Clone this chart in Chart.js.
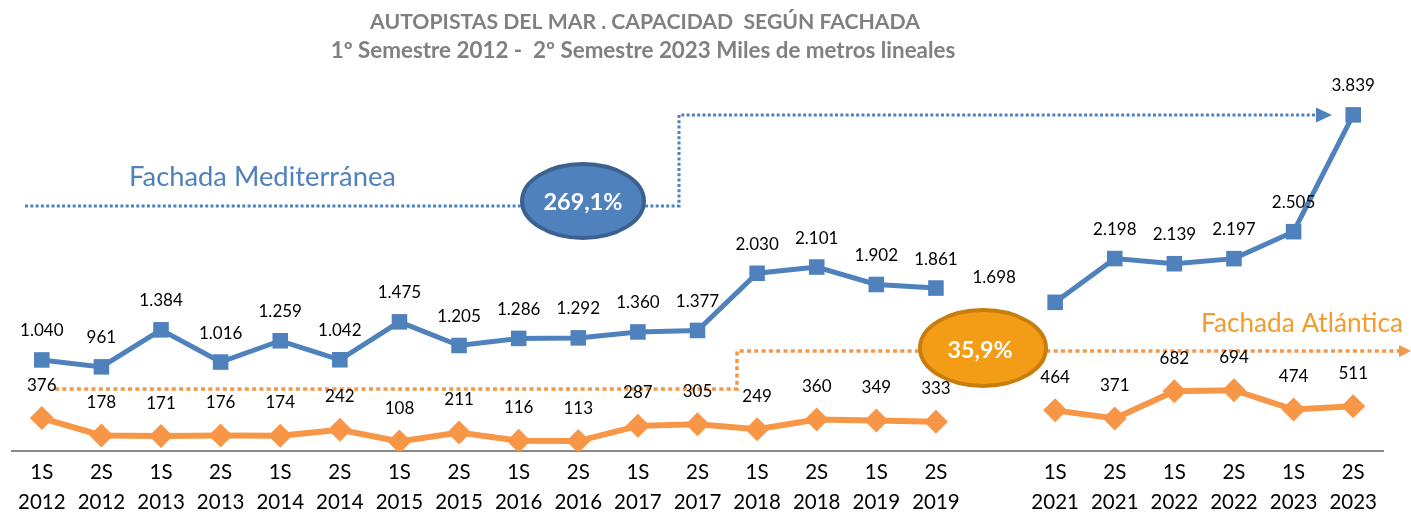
<!DOCTYPE html>
<html><head><meta charset="utf-8">
<script src="https://cdn.jsdelivr.net/npm/chart.js@4.4.1/dist/chart.umd.min.js"></script>
<style>html,body{margin:0;padding:0;background:#fff;}#wrap{position:relative;width:1411px;height:514px;}</style>
</head><body><div id="wrap"><canvas id="c"></canvas></div>
<script>
const periods = ['1S','2S','1S','2S','1S','2S','1S','2S','1S','2S','1S','2S','1S','2S','1S','2S','','1S','2S','1S','2S','1S','2S'];
const years = ['2012','2012','2013','2013','2014','2014','2015','2015','2016','2016','2017','2017','2018','2018','2019','2019','','2021','2021','2022','2022','2023','2023'];
const mediterranea = [1040,961,1384,1016,1259,1042,1475,1205,1286,1292,1360,1377,2030,2101,1902,1861,null,1698,2198,2139,2197,2505,3839];
const atlantica = [376,178,171,176,174,242,108,211,116,113,287,305,249,360,349,333,null,464,371,682,694,474,511];
const yMin = 0, yMax = 4500;
const titleLines = ['AUTOPISTAS DEL MAR . CAPACIDAD  SEGÚN FACHADA', '1º Semestre 2012 -  2º Semestre 2023 Miles de metros lineales'];
const seriesNames = ['Fachada Mediterránea', 'Fachada Atlántica'];
const growthLabels = ['269,1%', '35,9%'];

const BLUE = '#4f81bd', ORANGE = '#f79646';
const FAM = 'Lato, "Open Sans", "DejaVu Sans", sans-serif';
const fmt = v => String(v).replace(/\B(?=(\d{3})+(?!\d))/g, '.');
const labelCfg = [{off: 29, color: '#000'}, {off: 33, color: '#000'}];
const labelShift = {0: {17: [-61, 4]}};

function fitSize(ctx, text, weight, width) {
  ctx.font = weight + ' 100px ' + FAM;
  return 100 * width / ctx.measureText(text).width;
}
function fitText(ctx, text, weight, width, cx, y, color, baseline) {
  const s = fitSize(ctx, text, weight, width);
  ctx.font = weight + ' ' + s.toFixed(2) + 'px ' + FAM;
  ctx.fillStyle = color;
  ctx.textAlign = 'center';
  ctx.textBaseline = baseline || 'middle';
  ctx.fillText(text, cx, y);
}

const decor = {
  id: 'decor',
  beforeDatasetsDraw(chart) {
    const ctx = chart.ctx;
    ctx.save();
    ctx.strokeStyle = BLUE; ctx.lineWidth = 3; ctx.setLineDash([3, 2.3]); ctx.lineCap = 'butt';
    ctx.beginPath(); ctx.moveTo(25, 206); ctx.lineTo(679, 206); ctx.lineTo(679, 115); ctx.lineTo(1318, 115); ctx.stroke();
    ctx.strokeStyle = ORANGE; ctx.lineWidth = 3.5; ctx.setLineDash([4, 3.3]);
    ctx.beginPath(); ctx.moveTo(55, 389); ctx.lineTo(737, 389); ctx.lineTo(737, 351); ctx.lineTo(1400, 351); ctx.stroke();
    ctx.setLineDash([]);
    ctx.fillStyle = BLUE;
    ctx.beginPath(); ctx.moveTo(1332, 115); ctx.lineTo(1316, 107.5); ctx.lineTo(1316, 122.5); ctx.closePath(); ctx.fill();
    ctx.fillStyle = ORANGE;
    ctx.beginPath(); ctx.moveTo(1411, 351); ctx.lineTo(1399, 345); ctx.lineTo(1399, 357); ctx.closePath(); ctx.fill();
    ctx.lineWidth = 4;
    ctx.fillStyle = '#4f81bd'; ctx.strokeStyle = '#3a6190';
    ctx.beginPath(); ctx.ellipse(583, 201, 61, 37, 0, 0, Math.PI * 2); ctx.fill(); ctx.stroke();
    ctx.fillStyle = '#f39c16'; ctx.strokeStyle = '#c97d0c';
    ctx.beginPath(); ctx.ellipse(983, 348, 63, 38, 0, 0, Math.PI * 2); ctx.fill(); ctx.stroke();
    fitText(ctx, growthLabels[0], 'bold', 79, 583, 202, '#fff');
    fitText(ctx, growthLabels[1], 'bold', 65, 980, 350, '#fff');
    fitText(ctx, seriesNames[0], 'normal', 267, 262.5, 186, BLUE, 'alphabetic');
    fitText(ctx, seriesNames[1], 'normal', 202, 1302, 332, '#f59b2c', 'alphabetic');
    fitText(ctx, titleLines[0], 'bold', 550, 645, 22, '#808080');
    fitText(ctx, titleLines[1], 'bold', 625, 643, 51, '#808080');
    ctx.restore();
  },
  afterDatasetsDraw(chart) {
    const ctx = chart.ctx;
    ctx.save();
    ctx.font = '17px ' + FAM;
    ctx.textAlign = 'center'; ctx.textBaseline = 'middle';
    chart.data.datasets.forEach((ds, di) => {
      const meta = chart.getDatasetMeta(di);
      meta.data.forEach((pt, i) => {
        const v = ds.data[i];
        if (v == null) return;
        const sh = (labelShift[di] && labelShift[di][i]) || [0, 0];
        ctx.fillStyle = labelCfg[di].color;
        ctx.fillText(fmt(v), pt.x + sh[0], pt.y - labelCfg[di].off + sh[1]);
      });
    });
    ctx.restore();
  }
};

new Chart(document.getElementById('c'), {
  type: 'line',
  data: {
    labels: periods.map((p, i) => [p, years[i]]),
    datasets: [
      {label: seriesNames[0], data: mediterranea, borderColor: BLUE, backgroundColor: BLUE, borderWidth: 5,
       pointStyle: 'rect', pointRadius: 11, pointHoverRadius: 11, pointBorderWidth: 0, spanGaps: false, tension: 0},
      {label: seriesNames[1], data: atlantica, borderColor: ORANGE, backgroundColor: ORANGE, borderWidth: 6,
       pointStyle: 'rectRot', pointRadius: 12, pointHoverRadius: 12, pointBorderWidth: 0, spanGaps: false, tension: 0}
    ]
  },
  options: {
    responsive: true, maintainAspectRatio: false, animation: false,
    layout: {padding: {left: 4, right: 28, top: 57, bottom: 0}},
    plugins: {legend: {display: false}, tooltip: {enabled: false}, title: {display: false}},
    scales: {
      y: {display: false, min: yMin, max: yMax},
      x: {
        offset: true,
        grid: {display: true, drawOnChartArea: false, drawTicks: false},
        border: {display: true, color: '#8a8a8a', width: 2},
        ticks: {autoSkip: false, maxRotation: 0, minRotation: 0, color: '#000', padding: 6,
                font: {family: FAM, size: 20.5, lineHeight: 1.46}},
        afterFit(s) { s.height = 63; }
      }
    }
  },
  plugins: [decor]
});
</script>
</body></html>
